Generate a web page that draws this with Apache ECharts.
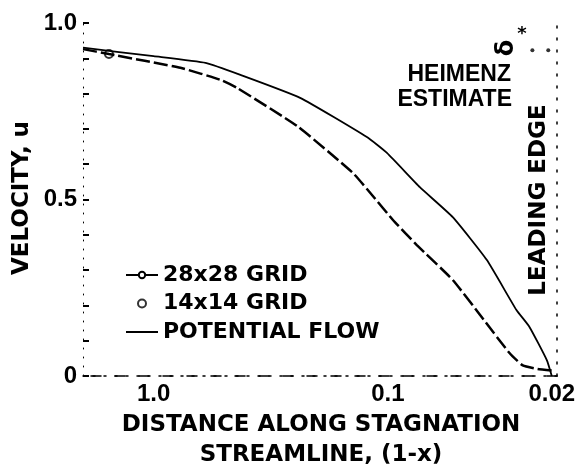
<!DOCTYPE html>
<html>
<head>
<meta charset="utf-8">
<script src="https://cdn.jsdelivr.net/npm/echarts@6/dist/echarts.min.js"></script>
<style>
  html, body { margin: 0; padding: 0; background: #fff; }
  #chart { width: 583px; height: 468px; }
</style>
</head>
<body>
<div id="chart"></div>
<script>
// distance along stagnation streamline (1-x), log scale, reversed
const potX = [2, 1.0, 0.6, 0.426, 0.237, 0.123, 0.101, 0.0731, 0.0529, 0.0379, 0.0283, 0.0249, 0.021, 0.0200];
const potU = [0.93, 0.906, 0.887, 0.853, 0.788, 0.677, 0.632, 0.535, 0.450, 0.329, 0.187, 0.139, 0.045, 0.0];
const g28X = [2, 1.55, 0.768, 0.519, 0.44, 0.244, 0.141, 0.116, 0.0952, 0.0753, 0.0529, 0.039, 0.0303, 0.0266, 0.023, 0.0195];
const g28U = [0.926, 0.912, 0.873, 0.839, 0.816, 0.708, 0.575, 0.51, 0.442, 0.371, 0.272, 0.159, 0.065, 0.03, 0.02, 0.015];
const g14X = [1.55];
const g14U = [0.912];
const heimenzX = [0.0242, 0.0207];
const heimenzU = [0.923, 0.923];
const xTicks = [1, 0.1, 0.02];

const pairs = (xs, ys) => xs.map((x, i) => [x, ys[i]]);
const bold = "DejaVu Sans";

let myChart = echarts.init(document.getElementById("chart"));
myChart.setOption({
  animation: false,
  grid: { left: 83, right: 26, top: 23, bottom: 92 },
  legend: {
    orient: "vertical",
    left: 120,
    top: 259,
    itemWidth: 32,
    itemHeight: 8,
    itemGap: 6.5,
    data: [
      { name: "28x28 GRID" },
      { name: "14x14 GRID", icon: "emptyCircle", itemStyle: { color: "#000", borderWidth: 1.5 } },
      { name: "POTENTIAL FLOW", icon: "path://M0 0H32V2H0Z", itemStyle: { color: "#000" } },
    ],
    textStyle: { fontFamily: bold, fontWeight: "bold", fontSize: 22, color: "#000" },
  },
  xAxis: [
    {
      type: "log",
      inverse: true,
      min: 0.019,
      max: 2,
      axisLine: { lineStyle: { color: "#000", type: [2, 9], width: 1.5 } },
      axisTick: { show: false },
      splitLine: { show: false },
      axisLabel: {
        customValues: xTicks,
        margin: 6,
        color: "#000",
        fontFamily: "Liberation Sans",
        fontWeight: "bold",
        fontSize: 24,
        formatter: (v) => (Math.abs(v - 1) < 1e-6 ? "1.0" : String(+v.toPrecision(2))),
      },
    },
    {
      type: "log",
      inverse: true,
      position: "top",
      min: 0.019,
      max: 2,
      axisLine: { lineStyle: { color: "#000", type: [10, 14], width: 1.5 } },
      axisTick: { show: false },
      axisLabel: { show: false },
      splitLine: { show: false },
    },
  ],
  yAxis: [
    {
      type: "value",
      min: 0,
      max: 1,
      interval: 0.1,
      axisLine: { show: true, lineStyle: { color: "#000", type: [1, 8], width: 1 } },
      axisTick: { show: true, inside: true, length: 6, lineStyle: { color: "#000", width: 2 } },
      splitLine: { show: false },
      axisLabel: {
        margin: 6,
        color: "#000",
        fontFamily: "Liberation Sans",
        fontWeight: "bold",
        fontSize: 24,
        formatter: (v) => {
          if (Math.abs(v) < 1e-6) return "0";
          if (Math.abs(v - 0.5) < 1e-6) return "0.5";
          if (Math.abs(v - 1) < 1e-6) return "1.0";
          return "";
        },
      },
    },
    {
      type: "value",
      position: "right",
      min: 0,
      max: 1,
      axisLine: { show: true, lineStyle: { color: "#000", type: [2, 10], width: 1.5 } },
      axisTick: { show: false },
      axisLabel: { show: false },
      splitLine: { show: false },
    },
  ],
  series: [
    {
      name: "28x28 GRID",
      type: "line",
      data: pairs(g28X, g28U),
      smooth: 0.15,
      showSymbol: false,
      symbol: "emptyCircle",
      symbolSize: 7,
      lineStyle: { color: "#000", width: 2.5, type: [14, 4] },
      itemStyle: { color: "#000", borderWidth: 1.5 },
    },
    {
      name: "14x14 GRID",
      type: "scatter",
      data: pairs(g14X, g14U),
      symbol: "emptyCircle",
      symbolSize: 8,
      itemStyle: { color: "#000", borderWidth: 1.5 },
    },
    {
      name: "POTENTIAL FLOW",
      type: "line",
      data: pairs(potX, potU),
      smooth: 0.15,
      showSymbol: false,
      symbol: "none",
      lineStyle: { color: "#000", width: 1.8 },
      itemStyle: { color: "#000" },
    },
    {
      name: "heimenz",
      type: "scatter",
      data: pairs(heimenzX, heimenzU),
      symbol: "circle",
      symbolSize: 4,
      itemStyle: { color: "#000" },
    },
  ],
  graphic: [
    {
      type: "text",
      x: 22,
      y: 198,
      rotation: Math.PI / 2,
      style: { text: "VELOCITY, u", font: "bold 23px DejaVu Sans", fill: "#000", align: "center", verticalAlign: "middle" },
    },
    {
      type: "text",
      x: 321,
      y: 425,
      style: { text: "DISTANCE ALONG STAGNATION", font: "bold 23px DejaVu Sans", fill: "#000", align: "center", verticalAlign: "middle" },
    },
    {
      type: "text",
      x: 321,
      y: 455,
      style: { text: "STREAMLINE, (1-x)", font: "bold 23px DejaVu Sans", fill: "#000", align: "center", verticalAlign: "middle" },
    },
    {
      type: "text",
      x: 539,
      y: 200,
      rotation: Math.PI / 2,
      style: { text: "LEADING EDGE", font: "bold 23px DejaVu Sans", fill: "#000", align: "center", verticalAlign: "middle" },
    },
    {
      type: "text",
      x: 511,
      y: 75,
      style: { text: "HEIMENZ", font: "bold 23px Liberation Sans", fill: "#000", align: "right", verticalAlign: "middle" },
    },
    {
      type: "text",
      x: 512,
      y: 100,
      style: { text: "ESTIMATE", font: "bold 23px Liberation Sans", fill: "#000", align: "right", verticalAlign: "middle" },
    },
    {
      type: "text",
      x: 507,
      y: 48,
      rotation: Math.PI / 2,
      style: { text: "δ", font: "bold 24px DejaVu Sans", fill: "#000", align: "center", verticalAlign: "middle" },
    },
    {
      type: "text",
      x: 522,
      y: 34,
      style: { text: "*", font: "bold 18px DejaVu Sans", fill: "#000", align: "center", verticalAlign: "middle" },
    },
  ],
});
</script>
</body>
</html>
